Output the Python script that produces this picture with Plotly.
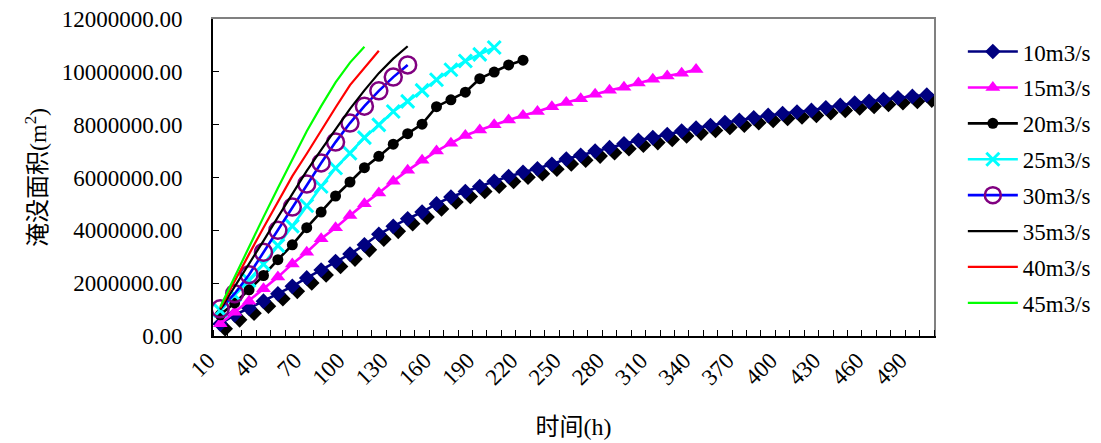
import plotly.graph_objects as go

hours = [10, 20, 30, 40, 50, 60, 70, 80, 90, 100, 110, 120, 130, 140, 150, 160, 170, 180, 190, 200,
         210, 220, 230, 240, 250, 260, 270, 280, 290, 300, 310, 320, 330, 340, 350, 360, 370, 380, 390, 400,
         410, 420, 430, 440, 450, 460, 470, 480, 490, 500]
x_labels = [10, 40, 70, 100, 130, 160, 190, 220, 250, 280, 310, 340, 370, 400, 430, 460, 490]

q10 = [460000, 800000, 1050000, 1320000, 1600000, 1880000, 2200000, 2500000, 2820000, 3100000,
       3450000, 3850000, 4150000, 4440000, 4690000, 5000000, 5260000, 5470000, 5660000, 5860000,
       6040000, 6200000, 6330000, 6500000, 6700000, 6840000, 7000000, 7130000, 7280000, 7410000,
       7510000, 7630000, 7760000, 7870000, 7970000, 8080000, 8170000, 8260000, 8350000, 8420000,
       8480000, 8540000, 8640000, 8730000, 8820000, 8880000, 8950000, 9020000, 9070000, 9120000]
q15 = [460000, 900000, 1320000, 1790000, 2230000, 2730000, 3170000, 3680000, 4100000, 4560000,
       5010000, 5410000, 5860000, 6270000, 6650000, 7000000, 7300000, 7590000, 7800000, 8000000,
       8180000, 8350000, 8500000, 8680000, 8840000, 8980000, 9150000, 9300000, 9420000, 9580000,
       9720000, 9840000, 9950000, 10090000]
q20 = [800000, 1250000, 1750000, 2290000, 2890000, 3450000, 4100000, 4690000, 5300000, 5830000,
       6370000, 6800000, 7260000, 7660000, 8020000, 8680000, 8940000, 9230000, 9740000, 9990000,
       10260000, 10440000]
q25 = [970000, 1550000, 2100000, 2720000, 3420000, 4160000, 4930000, 5660000, 6360000, 6920000,
       7510000, 7990000, 8500000, 8880000, 9300000, 9700000, 10080000, 10410000, 10660000, 10920000]
q30 = [1030000, 1600000, 2320000, 3170000, 4000000, 4880000, 5750000, 6550000, 7340000, 8060000,
       8700000, 9280000, 9800000, 10260000]
q35 = [1000000, 1850000, 2700000, 3600000, 4500000, 5400000, 6250000, 7050000, 7850000, 8600000,
       9300000, 9950000, 10500000, 10970000]
q40 = [1050000, 2100000, 3100000, 4100000, 5100000, 6050000, 6900000, 7800000, 8650000, 9500000,
       10150000, 10800000]
q45 = [1100000, 2250000, 3350000, 4500000, 5600000, 6700000, 7750000, 8700000, 9600000, 10350000,
       10950000]

names = ["10m3/s", "15m3/s", "20m3/s", "25m3/s", "30m3/s", "35m3/s", "40m3/s", "45m3/s"]
values = [q10, q15, q20, q25, q30, q35, q40, q45]
line_colors = ["#000080", "#FF00FF", "#000000", "#00FFFF", "#0000FF", "#000000", "#FF0000", "#00FF00"]
line_widths = [2.6, 2.6, 2.6, 2.6, 2.6, 2.2, 2.2, 2.2]
markers = [
    dict(symbol="diamond", size=12, color="#000080"),
    dict(symbol="triangle-up", size=13, color="#FF00FF"),
    dict(symbol="circle", size=11, color="#000000"),
    dict(symbol="x-thin", size=13, color="#00FFFF", line=dict(color="#00FFFF", width=3)),
    dict(symbol="circle-open", size=17, color="#800080", line=dict(color="#800080", width=2.5)),
    None, None, None,
]

FONT = "Liberation Serif, Noto Sans CJK SC, serif"

fig = go.Figure()

# drop shadow of the 10m3/s markers (drawn on offset axes underneath)
fig.add_trace(go.Scatter(
    x=hours[:len(q10)], y=q10, mode="markers",
    marker=dict(symbol="diamond", size=12, color="#000000"),
    showlegend=False, hoverinfo="skip", xaxis="x", yaxis="y",
))

for name, vals, lc, lw, mk in zip(names, values, line_colors, line_widths, markers):
    kw = dict(x=hours[:len(vals)], y=vals, name=name, legendgroup=name,
              xaxis="x2", yaxis="y2", line=dict(color=lc, width=lw))
    if mk is None:
        kw["mode"] = "lines"
    else:
        kw["mode"] = "lines+markers"
        kw["marker"] = mk
    fig.add_trace(go.Scatter(**kw))

W_PX, H_PX = 721, 317
dx = 5 / W_PX * 500
dy = 5 / H_PX * 12000000

fig.update_layout(
    width=1093, height=435,
    margin=dict(l=205, r=167, t=11, b=107, autoexpand=False),
    paper_bgcolor="white", plot_bgcolor="white",
    font=dict(family=FONT, size=23, color="#000000"),
    showlegend=True,
    legend=dict(x=1.040, y=0.965, xanchor="left", yanchor="top",
                font=dict(family=FONT, size=23, color="#000000"),
                bgcolor="rgba(0,0,0,0)", tracegroupgap=3, itemwidth=50),
    xaxis=dict(range=[5 - dx, 505 - dx], showgrid=False, zeroline=False, automargin=False,
               showticklabels=False, ticks="", showline=True, mirror=True,
               linecolor="#808080", linewidth=2, fixedrange=True),
    yaxis=dict(range=[0 + dy, 12000000 + dy], showgrid=False, zeroline=False, automargin=False,
               showticklabels=False, ticks="", showline=True, mirror=True,
               linecolor="#808080", linewidth=2, fixedrange=True),
    xaxis2=dict(overlaying="x", anchor="y2", side="bottom", range=[5, 505], automargin=False,
                showgrid=False, zeroline=False, showline=True, linecolor="#000000", linewidth=2,
                tickmode="array", tickvals=x_labels, ticktext=[str(v) for v in x_labels],
                ticks="", tickangle=-45, ticklabelshift=-12, ticklabeloverflow="allow",
                tickfont=dict(family=FONT, size=23),
                minor=dict(tick0=5, dtick=10, ticks="inside", ticklen=6,
                           tickcolor="#000000", tickwidth=1, showgrid=False),
                title=dict(text="时间(h)", font=dict(family=FONT, size=24), standoff=29)),
    yaxis2=dict(overlaying="y", anchor="x2", side="left", range=[0, 12000000], automargin=False,
                showgrid=False, zeroline=False, showline=True, linecolor="#000000", linewidth=2,
                tickmode="linear", tick0=0, dtick=2000000, tickformat=".2f",
                ticks="inside", ticklen=6, tickcolor="#000000", tickwidth=1,
                ticklabelstandoff=24, ticklabeloverflow="allow", tickfont=dict(family=FONT, size=23),
                title=dict(text="淹没面积(m<sup>2</sup>)", font=dict(family=FONT, size=24), standoff=8)),
)

fig.write_html("out.html")
